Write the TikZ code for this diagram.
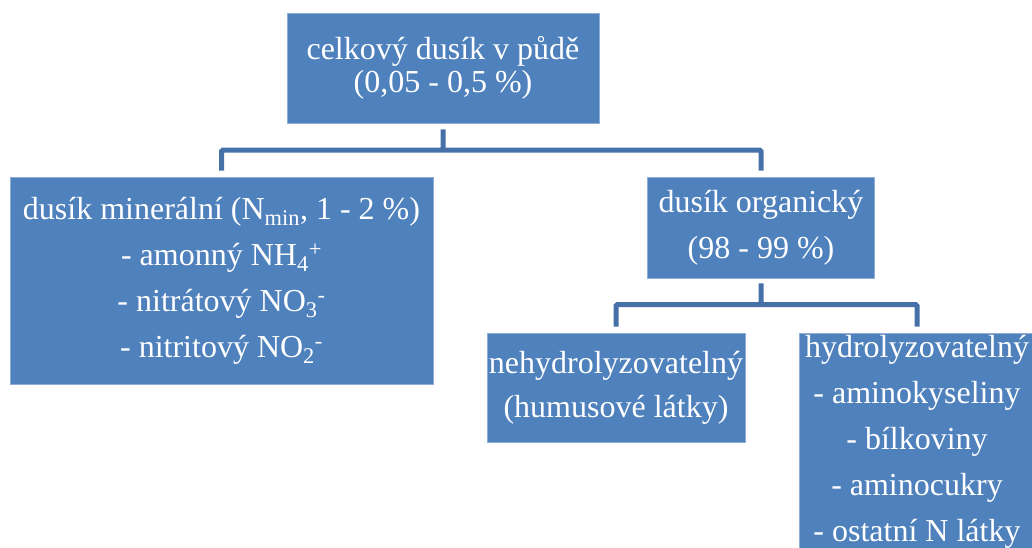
\documentclass[tikz,border=0pt]{standalone}
\usepackage{fontspec}
\setmainfont{Liberation Serif}
\usepackage{tikz}
\usetikzlibrary{positioning}
\definecolor{nbfill}{HTML}{4F81BD}
\definecolor{nbedge}{HTML}{8FADD6}
\definecolor{nbline}{HTML}{4670A8}
\tikzset{
  nbox/.style={draw=nbedge,line width=.8pt,fill=nbfill,text=white,align=center,
    inner sep=0pt,font=\fontsize{32}{46}\selectfont},
  tree/.style={draw=nbline,line width=5pt,rounded corners=1.5pt}
}
\begin{document}
\begin{tikzpicture}[x=1pt,y=-1pt]
    \useasboundingbox (0,0) rectangle (1032,547);
    \clip (0,0) rectangle (1032,547);
    \node[nbox,minimum width=312pt,minimum height=110pt,
      font=\fontsize{32}{33}\selectfont] (root) at (443,68)
      {celkový dusík v půdě\\(0,05 - 0,5 \%)};
    \node[nbox,minimum width=423pt,minimum height=207pt] (nmin) at (221.5,280.5)
      {dusík minerální (N\textsubscript{min}, 1 - 2 \%)\\
       - amonný NH\textsubscript{4}\textsuperscript{+}\\
       - nitrátový NO\textsubscript{3}\textsuperscript{-}\\
       - nitritový NO\textsubscript{2}\textsuperscript{-}};
    \node[nbox,minimum width=227pt,minimum height=101pt] (norg) at (761,227.5)
      {dusík organický\\(98 - 99 \%)};
    \node[nbox,minimum width=258pt,minimum height=109pt,
      font=\fontsize{32}{44}\selectfont] (nehyd) at (616,387.5)
      {nehydrolyzovatelný\\(humusové látky)};
    \node[nbox,minimum width=236pt,minimum height=217pt] (hyd) at (917,441.5)
      {hydrolyzovatelný\\- aminokyseliny\\- bílkoviny\\- aminocukry\\- ostatní N látky};
    % branching lines
    \coordinate (bus1) at (443,150);
    \coordinate (bus2) at (761,304.5);
    \draw[tree] ([yshift=-6pt]root.south)--(root.south|-bus1)-|([yshift=6pt]nmin.north);
    \draw[tree] (root.south|-bus1)-|([yshift=6pt]norg.north);
    \draw[tree] ([yshift=-5pt]norg.south)--(norg.south|-bus2)-|([yshift=6pt]nehyd.north);
    \draw[tree] (norg.south|-bus2)-|([yshift=6pt]hyd.north);
\end{tikzpicture}
\end{document}
